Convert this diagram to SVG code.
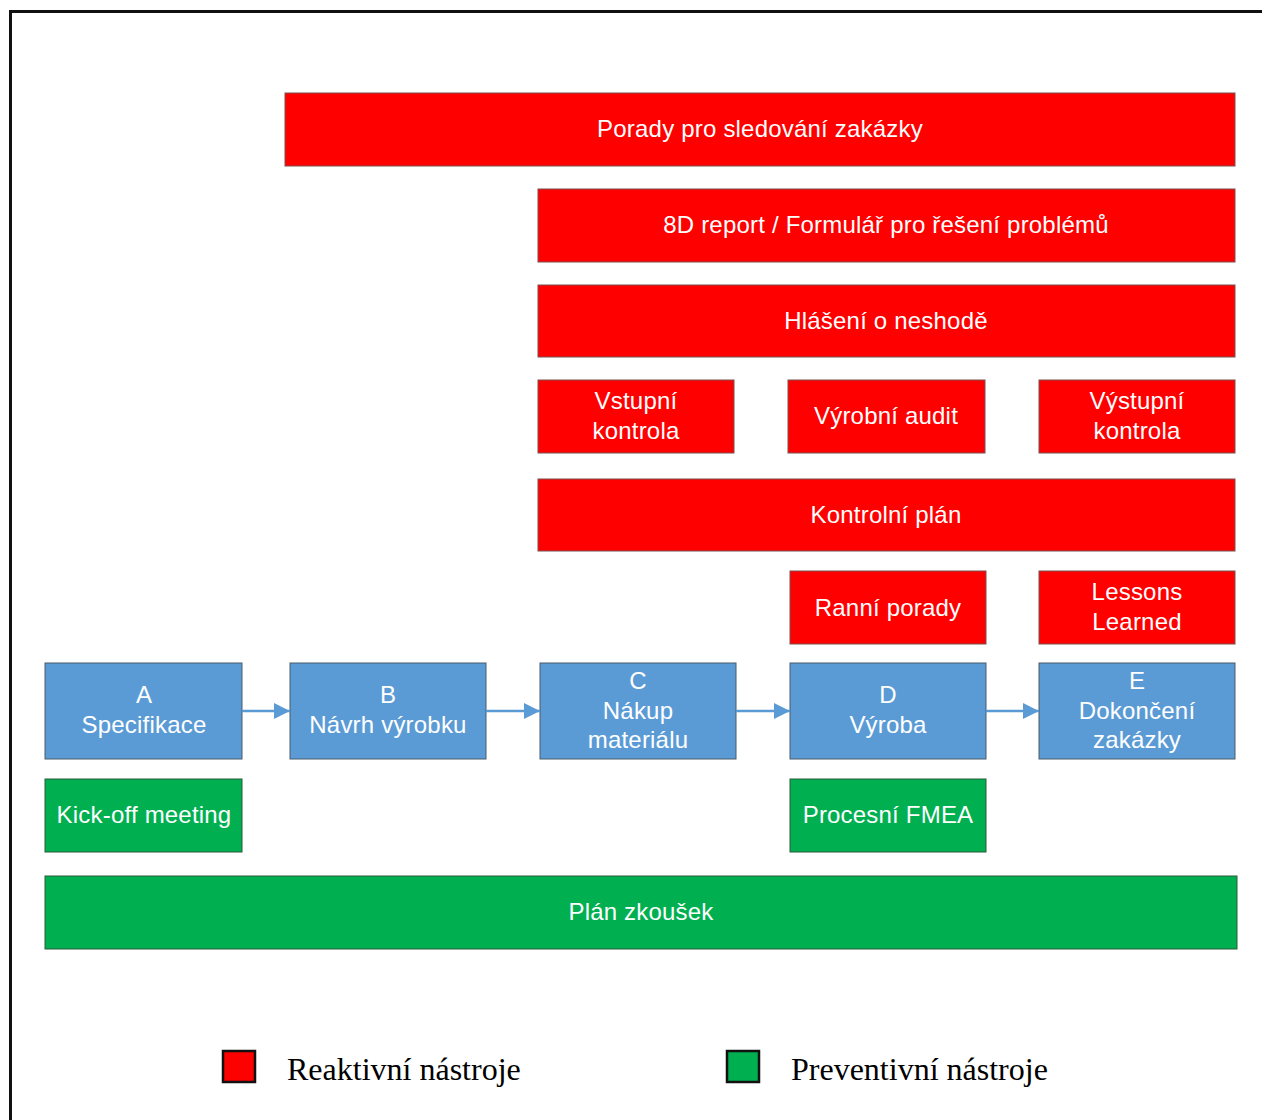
<svg xmlns="http://www.w3.org/2000/svg" width="1262" height="1120" viewBox="0 0 1262 1120">
<defs>
<style>
.r{fill:#ff0000;stroke:#7a5050;stroke-width:1}
.b{fill:#5b9bd5;stroke:#4a5a6a;stroke-width:1}
.g{fill:#00b050;stroke:#2a5a3a;stroke-width:1}
.t{font-family:"Liberation Sans",Arial,sans-serif;font-size:24px;fill:#ffffff;text-anchor:middle;letter-spacing:0.2px}
.lg{font-family:"Liberation Serif","Times New Roman",serif;font-size:32px;fill:#000000}
.c{stroke:#5b9bd5;stroke-width:2.5;fill:none;marker-end:url(#ah)}
</style>
<marker id="ah" markerWidth="16" markerHeight="16" refX="16" refY="8" viewBox="0 0 16 16" markerUnits="userSpaceOnUse" orient="auto">
<path d="M0,0 L16,8 L0,16 Z" fill="#5b9bd5"/>
</marker>
</defs>
<rect x="0" y="0" width="1262" height="1120" fill="#ffffff"/>
<rect x="10.5" y="11.5" width="1270" height="1130" fill="none" stroke="#111111" stroke-width="3"/>

<g id="porady"><rect class="r" x="285" y="93" width="950" height="73"/><text class="t" x="760" y="137">Porady pro sledování zakázky</text></g>
<g id="report8d"><rect class="r" x="538" y="189" width="697" height="73"/><text class="t" x="886" y="233">8D report / Formulář pro řešení problémů</text></g>
<g id="hlaseni"><rect class="r" x="538" y="285" width="697" height="72"/><text class="t" x="886" y="329">Hlášení o neshodě</text></g>
<g id="vstupni"><rect class="r" x="538" y="380" width="196" height="73"/><text class="t" x="636" y="409">Vstupní</text><text class="t" x="636" y="439">kontrola</text></g>
<g id="audit"><rect class="r" x="788" y="380" width="197" height="73"/><text class="t" x="886" y="424">Výrobní audit</text></g>
<g id="vystupni"><rect class="r" x="1039" y="380" width="196" height="73"/><text class="t" x="1137" y="409">Výstupní</text><text class="t" x="1137" y="439">kontrola</text></g>
<g id="kontrolni"><rect class="r" x="538" y="479" width="697" height="72"/><text class="t" x="886" y="523">Kontrolní plán</text></g>
<g id="ranni"><rect class="r" x="790" y="571" width="196" height="73"/><text class="t" x="888" y="616">Ranní porady</text></g>
<g id="lessons"><rect class="r" x="1039" y="571" width="196" height="73"/><text class="t" x="1137" y="600">Lessons</text><text class="t" x="1137" y="630">Learned</text></g>

<g id="nodeA"><rect class="b" x="45" y="663" width="197" height="96"/><text class="t" x="144" y="703">A</text><text class="t" x="144" y="733">Specifikace</text></g>
<g id="nodeB"><rect class="b" x="290" y="663" width="196" height="96"/><text class="t" x="388" y="703">B</text><text class="t" x="388" y="733">Návrh výrobku</text></g>
<g id="nodeC"><rect class="b" x="540" y="663" width="196" height="96"/><text class="t" x="638" y="689">C</text><text class="t" x="638" y="719">Nákup</text><text class="t" x="638" y="748">materiálu</text></g>
<g id="nodeD"><rect class="b" x="790" y="663" width="196" height="96"/><text class="t" x="888" y="703">D</text><text class="t" x="888" y="733">Výroba</text></g>
<g id="nodeE"><rect class="b" x="1039" y="663" width="196" height="96"/><text class="t" x="1137" y="689">E</text><text class="t" x="1137" y="719">Dokončení</text><text class="t" x="1137" y="748">zakázky</text></g>

<g id="kickoff"><rect class="g" x="45" y="779" width="197" height="73"/><text class="t" x="144" y="823">Kick-off meeting</text></g>
<g id="fmea"><rect class="g" x="790" y="779" width="196" height="73"/><text class="t" x="888" y="823">Procesní FMEA</text></g>
<g id="plan"><rect class="g" x="45" y="876" width="1192" height="73"/><text class="t" x="641" y="920">Plán zkoušek</text></g>

<g id="connectors">
<line class="c" x1="242" y1="711" x2="290" y2="711"/>
<line class="c" x1="486" y1="711" x2="540" y2="711"/>
<line class="c" x1="736" y1="711" x2="790" y2="711"/>
<line class="c" x1="986" y1="711" x2="1039" y2="711"/>
</g>

<g id="legend">
<rect x="223" y="1051" width="32" height="31" fill="#ff0000" stroke="#111111" stroke-width="2.5"/>
<text class="lg" x="287" y="1080">Reaktivní nástroje</text>
<rect x="727" y="1051" width="32" height="31" fill="#00b050" stroke="#111111" stroke-width="2.5"/>
<text class="lg" x="791" y="1080">Preventivní nástroje</text>
</g>
</svg>
